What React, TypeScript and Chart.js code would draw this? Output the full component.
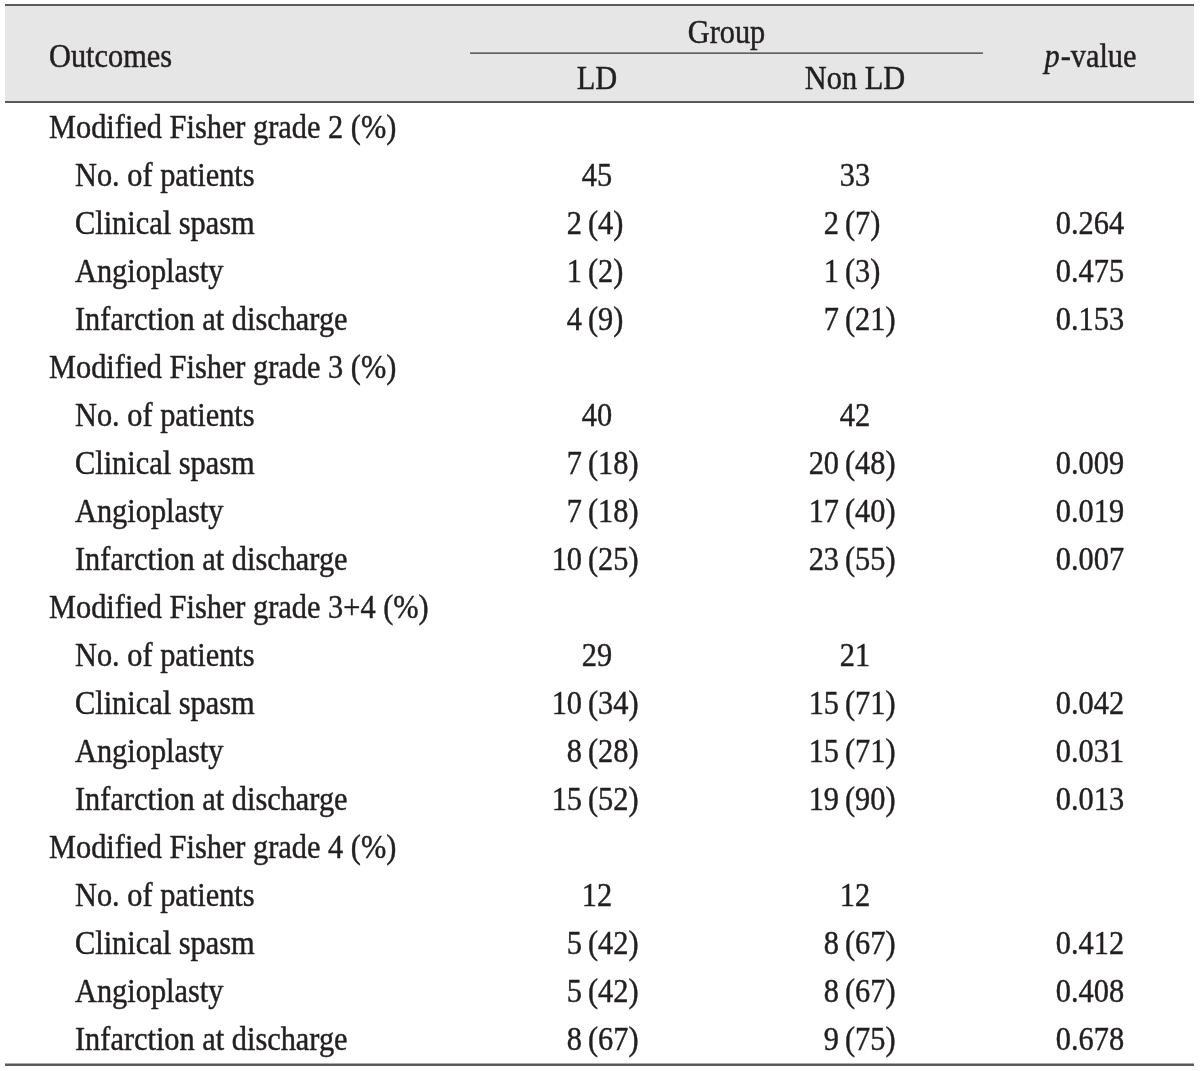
import React, { useEffect, useRef } from "react";
import { Chart, registerables } from "chart.js";

Chart.register(...registerables);

// ---- Data ----
const sectionTitles = [
  "Modified Fisher grade 2 (%)",
  "Modified Fisher grade 3 (%)",
  "Modified Fisher grade 3+4 (%)",
  "Modified Fisher grade 4 (%)",
];
const outcomeLabels = ["No. of patients", "Clinical spasm", "Angioplasty", "Infarction at discharge"];
const ldCounts = [45, 2, 1, 4, 40, 7, 7, 10, 29, 10, 8, 15, 12, 5, 5, 8];
const ldPct: (number | null)[] = [null, 4, 2, 9, null, 18, 18, 25, null, 34, 28, 52, null, 42, 42, 67];
const nonLdCounts = [33, 2, 1, 7, 42, 20, 17, 23, 21, 15, 15, 19, 12, 8, 8, 9];
const nonLdPct: (number | null)[] = [null, 7, 3, 21, null, 48, 40, 55, null, 71, 71, 90, null, 67, 67, 75];
const pValues: (string | null)[] = [
  null, "0.264", "0.475", "0.153",
  null, "0.009", "0.019", "0.007",
  null, "0.042", "0.031", "0.013",
  null, "0.412", "0.408", "0.678",
];
const headerTexts = { outcomes: "Outcomes", group: "Group", ld: "LD", nonLd: "Non LD", pItalic: "p", pRest: "-value" };

// ---- Layout (options) ----
const W = 1200;
const H = 1071;
const ROW0 = 127;
const ROWH = 48.02;
const colX = { section: 49, outcome: 75, ldCenter: 597, ldCountRight: 582, ldPctLeft: 588, nonCenter: 855, nonCountRight: 839, nonPctLeft: 845, p: 1090, groupL: 470, groupR: 983, tableL: 5, tableR: 1194 };
const rowY = { topLine: -2.54, group: -1.97, groupLine: -1.54, outcomes: -1.48, sub: -1.02, headLine: -0.52, bottomLine: 19.53 };
const FONT_SIZE = 33;
const SX = 0.92;
const FONT = `${FONT_SIZE}px "Liberation Serif", "DejaVu Serif", serif`;
const IFONT = `italic ${FONT_SIZE}px "Liberation Serif", "DejaVu Serif", serif`;
const TEXT_COLOR = "#231f20";

// Build row list
type Row = { kind: "section" | "item"; label: string; idx: number };
const rows: Row[] = [];
sectionTitles.forEach((t, s) => {
  rows.push({ kind: "section", label: t, idx: -1 });
  outcomeLabels.forEach((o, k) => rows.push({ kind: "item", label: o, idx: s * outcomeLabels.length + k }));
});

function drawText(ctx: CanvasRenderingContext2D, text: string, x: number, y: number, align: CanvasTextAlign, font = FONT) {
  ctx.save();
  ctx.font = font;
  ctx.fillStyle = TEXT_COLOR;
  ctx.strokeStyle = TEXT_COLOR;
  ctx.lineWidth = 0.45;
  ctx.textBaseline = "alphabetic";
  ctx.textAlign = align;
  ctx.translate(x, y + FONT_SIZE * 0.33);
  ctx.scale(SX, 1);
  ctx.fillText(text, 0, 0);
  ctx.strokeText(text, 0, 0);
  ctx.restore();
}

const tablePlugin = {
  id: "tablePlugin",
  beforeDatasetsDraw(chart: any) {
    const ctx: CanvasRenderingContext2D = chart.ctx;
    const xs = chart.scales.x;
    const ys = chart.scales.y;
    const X = (v: number) => xs.getPixelForValue(v);
    const Y = (v: number) => ys.getPixelForValue(v);

    // header background
    ctx.save();
    ctx.fillStyle = "#e6e6e6";
    ctx.fillRect(X(colX.tableL), Y(rowY.topLine), X(colX.tableR) - X(colX.tableL), Y(rowY.headLine) - Y(rowY.topLine));
    ctx.restore();

    const hline = (y: number, x1: number, x2: number, w: number, color: string) => {
      ctx.save();
      ctx.strokeStyle = color;
      ctx.lineWidth = w;
      ctx.beginPath();
      ctx.moveTo(X(x1), Y(y));
      ctx.lineTo(X(x2), Y(y));
      ctx.stroke();
      ctx.restore();
    };
    hline(rowY.topLine, colX.tableL, colX.tableR, 2, "#5a5a5a");
    hline(rowY.headLine, colX.tableL, colX.tableR, 2, "#5a5a5a");
    hline(rowY.groupLine, colX.groupL, colX.groupR, 1.2, "#333");
    hline(rowY.bottomLine, colX.tableL, colX.tableR, 2.5, "#5a5a5a");

    // header texts
    drawText(ctx, headerTexts.outcomes, X(colX.section), Y(rowY.outcomes), "left");
    drawText(ctx, headerTexts.group, X((colX.groupL + colX.groupR) / 2), Y(rowY.group), "center");
    drawText(ctx, headerTexts.ld, X(colX.ldCenter), Y(rowY.sub), "center");
    drawText(ctx, headerTexts.nonLd, X(colX.nonCenter), Y(rowY.sub), "center");
    ctx.save();
    ctx.font = IFONT;
    const wp = ctx.measureText(headerTexts.pItalic).width * SX;
    ctx.font = FONT;
    const wr = ctx.measureText(headerTexts.pRest).width * SX;
    ctx.restore();
    const px0 = X(colX.p) - (wp + wr) / 2;
    drawText(ctx, headerTexts.pItalic, px0, Y(rowY.outcomes), "left", IFONT);
    drawText(ctx, headerTexts.pRest, px0 + wp + 1, Y(rowY.outcomes), "left");

    // body
    rows.forEach((r, i) => {
      const y = Y(i);
      if (r.kind === "section") {
        drawText(ctx, r.label, X(colX.section), y, "left");
        return;
      }
      drawText(ctx, r.label, X(colX.outcome), y, "left");
      const k = r.idx;
      if (ldPct[k] === null) {
        drawText(ctx, String(ldCounts[k]), X(colX.ldCenter), y, "center");
      } else {
        drawText(ctx, String(ldCounts[k]), X(colX.ldCountRight), y, "right");
        drawText(ctx, `(${ldPct[k]})`, X(colX.ldPctLeft), y, "left");
      }
      if (nonLdPct[k] === null) {
        drawText(ctx, String(nonLdCounts[k]), X(colX.nonCenter), y, "center");
      } else {
        drawText(ctx, String(nonLdCounts[k]), X(colX.nonCountRight), y, "right");
        drawText(ctx, `(${nonLdPct[k]})`, X(colX.nonPctLeft), y, "left");
      }
      if (pValues[k] !== null) drawText(ctx, pValues[k] as string, X(colX.p), y, "center");
    });
  },
};

export default function App() {
  const ref = useRef<HTMLCanvasElement | null>(null);
  useEffect(() => {
    document.body.style.margin = "0";
    document.body.style.background = "#ffffff";
    const canvas = ref.current;
    if (!canvas) return;
    const points = rows.map((_, i) => ({ x: colX.section, y: i }));
    const chart = new Chart(canvas, {
      type: "scatter",
      data: { datasets: [{ data: points, pointRadius: 0, pointHoverRadius: 0 }] },
      options: {
        animation: false,
        responsive: false,
        devicePixelRatio: 1,
        layout: { padding: 0 },
        events: [],
        plugins: { legend: { display: false }, tooltip: { enabled: false }, title: { display: false } },
        scales: {
          x: { type: "linear", display: false, min: 0, max: W },
          y: { type: "linear", display: false, reverse: true, min: (0 - ROW0) / ROWH, max: (H - ROW0) / ROWH },
        },
      },
      plugins: [tablePlugin],
    });
    return () => chart.destroy();
  }, []);
  return <canvas ref={ref} width={W} height={H} style={{ display: "block", width: W, height: H }} />;
}
